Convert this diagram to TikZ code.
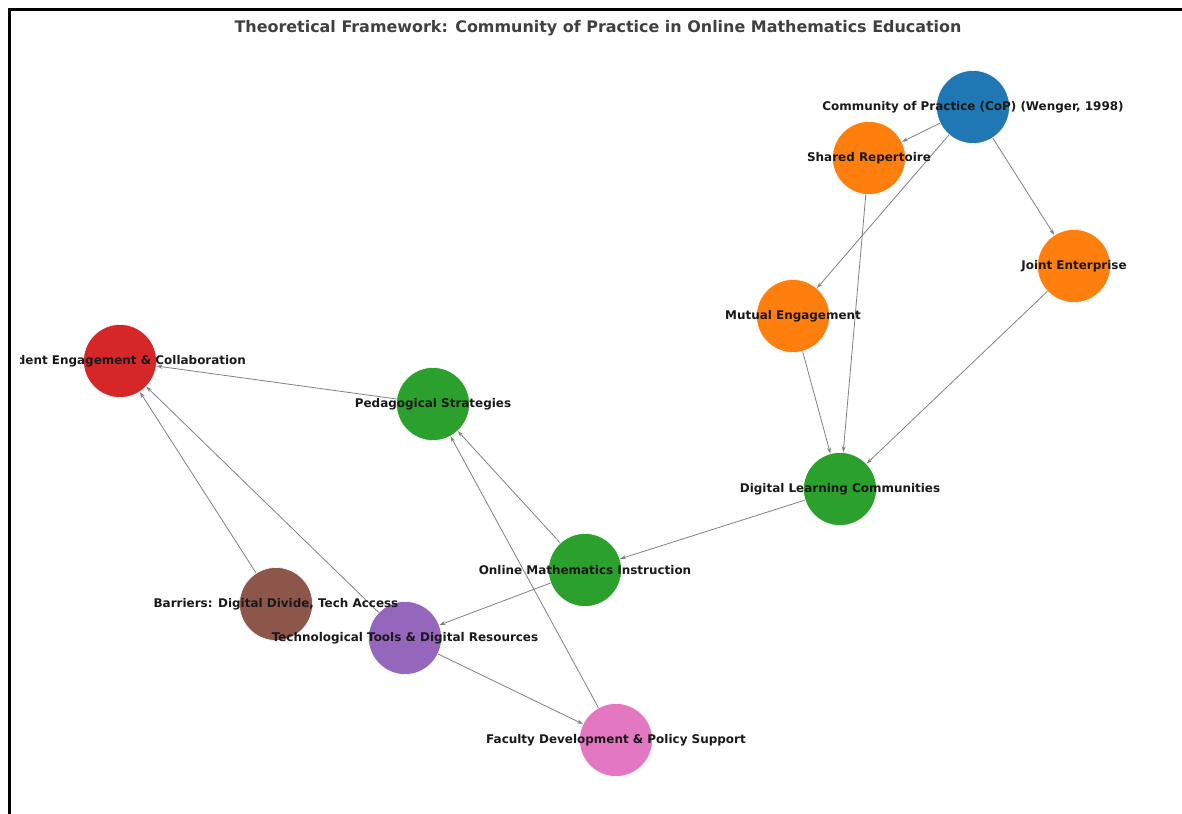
\documentclass[tikz,border=0pt]{standalone}
\usepackage{fontspec}
\setmainfont{DejaVu Sans}
\usetikzlibrary{arrows.meta}
\definecolor{copblue}{HTML}{1F77B4}
\definecolor{coporange}{HTML}{FF7F0E}
\definecolor{copgreen}{HTML}{2CA02C}
\definecolor{copred}{HTML}{D62728}
\definecolor{coppurple}{HTML}{9467BD}
\definecolor{copbrown}{HTML}{8C564B}
\definecolor{coppink}{HTML}{E377C2}
\tikzset{
  concept/.style={circle,fill=#1,draw=white,line width=0.6bp,minimum size=73bp,inner sep=0pt},
  conceptlabel/.style={font=\bfseries\fontsize{12}{14}\selectfont,text=black!90,inner sep=0pt},
  link/.style={draw=gray,line width=0.8bp,-{Stealth[length=6bp,width=4bp]}},
}
\begin{document}
\begin{tikzpicture}[x=1bp,y=-1bp]
\useasboundingbox (0,0) rectangle (1182,814);
\draw[black,line width=3bp] (9.5,814) -- (9.5,9.5) -- (1182,9.5);
\node[font=\bfseries\fontsize{16}{18}\selectfont,text=black!75] (title) at (598,28)
  {Theoretical Framework: Community of Practice in Online Mathematics Education};
% concepts
\node[concept=copblue] (cop) at (973,107) {};
\node[concept=coporange] (shared) at (869,158) {};
\node[concept=coporange] (joint) at (1074,266) {};
\node[concept=coporange] (mutual) at (793,316) {};
\node[concept=copgreen] (dlc) at (840,489) {};
\node[concept=copgreen] (peda) at (433,404) {};
\node[concept=copgreen] (omi) at (585,570) {};
\node[concept=copred] (student) at (120,361) {};
\node[concept=copbrown] (barriers) at (276,604) {};
\node[concept=coppurple] (tools) at (405,638) {};
\node[concept=coppink] (faculty) at (616,740) {};
% links
\draw[link] (cop) -- (shared);
\draw[link] (cop) -- (mutual);
\draw[link] (cop) -- (joint);
\draw[link] (shared) -- (dlc);
\draw[link] (mutual) -- (dlc);
\draw[link] (joint) -- (dlc);
\draw[link] (dlc) -- (omi);
\draw[link] (omi) -- (peda);
\draw[link] (omi) -- (tools);
\draw[link] (peda) -- (student);
\draw[link] (tools) -- (student);
\draw[link] (barriers) -- (student);
\draw[link] (tools) -- (faculty);
\draw[link] (faculty) -- (peda);
% labels
\begin{scope}
\clip (20,0) rectangle (1182,814);
\node[conceptlabel] at (cop) {Community of Practice (CoP) (Wenger, 1998)};
\node[conceptlabel] at (shared) {Shared Repertoire};
\node[conceptlabel] at (joint) {Joint Enterprise};
\node[conceptlabel] at (mutual) {Mutual Engagement};
\node[conceptlabel] at (dlc) {Digital Learning Communities};
\node[conceptlabel] at (peda) {Pedagogical Strategies};
\node[conceptlabel] at (omi) {Online Mathematics Instruction};
\node[conceptlabel] at (student) {Student Engagement \& Collaboration};
\node[conceptlabel] at (barriers) {Barriers: Digital Divide, Tech Access};
\node[conceptlabel] at (tools) {Technological Tools \& Digital Resources};
\node[conceptlabel] at (faculty) {Faculty Development \& Policy Support};
\end{scope}
\end{tikzpicture}
\end{document}
